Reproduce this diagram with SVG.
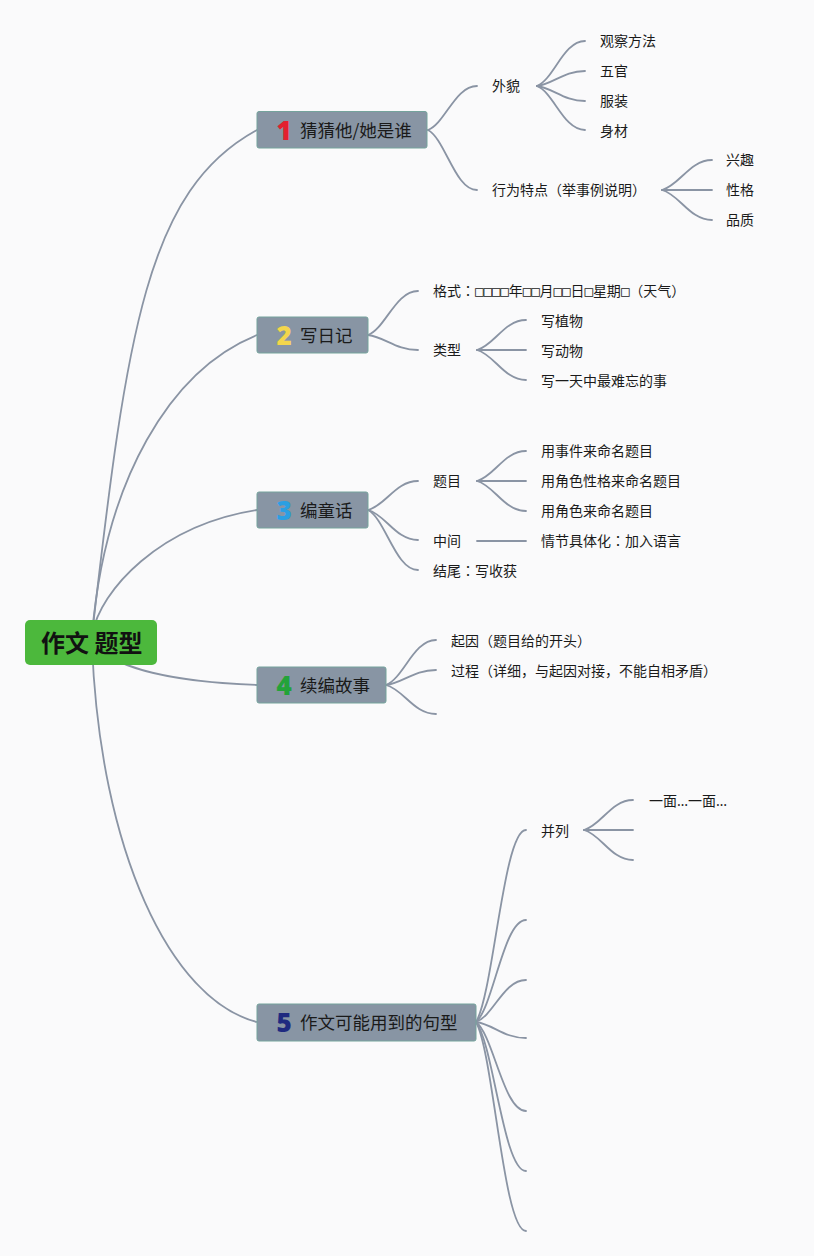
<svg xmlns="http://www.w3.org/2000/svg" width="814" height="1256" viewBox="0 0 814 1256">
<style>
.bg{fill:#fafafb}
.ln{fill:none;stroke:#8a94a4;stroke-width:1.8;stroke-linecap:round}
.root{fill:#4cb83c}
.rt{font-family:"Noto Sans CJK SC",sans-serif;font-size:24px;font-weight:bold;fill:#111}
.br{fill:#8895a4;stroke:#74a39c;stroke-width:1}
.bt{font-family:"Noto Sans CJK SC",sans-serif;font-size:17.5px;fill:#1a1a1a}
.num{font-family:"Noto Sans","Noto Sans CJK SC",sans-serif;font-size:26px;font-weight:900;text-anchor:middle}
.t{font-family:"Noto Sans CJK SC",sans-serif;font-size:14px;fill:#1a1a1a}
.box{font-family:"DejaVu Sans Mono",monospace}
.col{font-family:"Noto Sans CJK TC",sans-serif}
.ell{font-family:"Noto Sans",sans-serif}
</style>
<rect class="bg" x="0" y="0" width="814" height="1256"/>
<g id="connectors">
<path class="ln" d="M92,635 C127,330 147,190 257,130"/>
<path class="ln" d="M92,635 C105,480 170,370 257,335"/>
<path class="ln" d="M92,635 C100,590 160,525 257,510"/>
<path class="ln" d="M92,640 C110,670 180,682 257,685"/>
<path class="ln" d="M92,645 C100,850 170,1000 257,1022"/>
<path class="ln" d="M428,130 C445.2,123.4 455,86 477,86"/>
<path class="ln" d="M428,130 C445.2,139 455,190 477,190"/>
<path class="ln" d="M537,86 C553.8,79.25 563.4,41 585,41"/>
<path class="ln" d="M537,86 C553.8,83.75 563.4,71 585,71"/>
<path class="ln" d="M537,86 C553.8,88.25 563.4,101 585,101"/>
<path class="ln" d="M537,86 C553.8,92.6 563.4,130 585,130"/>
<path class="ln" d="M662,190 C679.5,185.5 689.5,160 712,160"/>
<path class="ln" d="M662,190 L712,190"/>
<path class="ln" d="M662,190 C679.5,194.5 689.5,220 712,220"/>
<path class="ln" d="M368,335 C385.5,328.4 395.5,291 418,291"/>
<path class="ln" d="M368,335 C385.5,337.25 395.5,350 418,350"/>
<path class="ln" d="M477,350 C494.2,345.5 504,320 526,320"/>
<path class="ln" d="M477,350 L526,350"/>
<path class="ln" d="M477,350 C494.2,354.5 504,380 526,380"/>
<path class="ln" d="M368,510 C385.5,505.65 395.5,481 418,481"/>
<path class="ln" d="M368,510 C385.5,514.5 395.5,540 418,540"/>
<path class="ln" d="M368,510 C385.5,519 395.5,570 418,570"/>
<path class="ln" d="M477,481 C494.2,476.5 504,451 526,451"/>
<path class="ln" d="M477,481 L526,481"/>
<path class="ln" d="M477,481 C494.2,485.5 504,511 526,511"/>
<path class="ln" d="M477,541 L526,541"/>
<path class="ln" d="M386,685 C403.5,678.25 413.5,640 436,640"/>
<path class="ln" d="M386,685 C403.5,682.75 413.5,670 436,670"/>
<path class="ln" d="M386,685 C403.5,689.35 413.5,714 436,714"/>
<path class="ln" d="M476,1022 C493.5,993.2 503.5,830 526,830"/>
<path class="ln" d="M476,1022 C493.5,1006.7 503.5,920 526,920"/>
<path class="ln" d="M476,1022 C493.5,1015.7 503.5,980 526,980"/>
<path class="ln" d="M476,1022 C493.5,1024.4 503.5,1038 526,1038"/>
<path class="ln" d="M476,1022 C493.5,1035.35 503.5,1111 526,1111"/>
<path class="ln" d="M476,1022 C493.5,1044.35 503.5,1171 526,1171"/>
<path class="ln" d="M476,1022 C493.5,1053.35 503.5,1231 526,1231"/>
<path class="ln" d="M584,830 C601.15,825.5 610.95,800 633,800"/>
<path class="ln" d="M584,830 L633,830"/>
<path class="ln" d="M584,830 C601.15,834.5 610.95,860 633,860"/>
</g>
<g id="root">
<rect class="root" x="25" y="620" width="132" height="45" rx="5"/>
<text class="rt" x="41" y="652">作文 题型</text>
</g>
<g id="b1">
<rect class="br" x="257" y="111.5" width="170" height="36.5" rx="2"/>
<text class="num" x="284" y="139.5" fill="#e3202f">1</text>
<text class="bt" x="300" y="136.5">猜猜他/她是谁</text>
</g>
<g id="b2">
<rect class="br" x="257" y="317" width="111" height="36" rx="2"/>
<text class="num" x="284" y="344.5" fill="#f3d64c">2</text>
<text class="bt" x="300" y="341.5">写日记</text>
</g>
<g id="b3">
<rect class="br" x="257" y="492" width="111" height="36" rx="2"/>
<text class="num" x="284" y="519.5" fill="#2b9fe2">3</text>
<text class="bt" x="300" y="516.5">编童话</text>
</g>
<g id="b4">
<rect class="br" x="257" y="667" width="129" height="36" rx="2"/>
<text class="num" x="284" y="694.5" fill="#23a33a">4</text>
<text class="bt" x="300" y="691.5">续编故事</text>
</g>
<g id="b5">
<rect class="br" x="257" y="1004" width="219" height="37" rx="2"/>
<text class="num" x="284" y="1031.5" fill="#1f2a80">5</text>
<text class="bt" x="300" y="1028.5">作文可能用到的句型</text>
</g>
<g id="b1-sub">
<text class="t" x="492" y="91">外貌</text>
<text class="t" x="600" y="46">观察方法</text>
<text class="t" x="600" y="76">五官</text>
<text class="t" x="600" y="106">服装</text>
<text class="t" x="600" y="136">身材</text>
<text class="t" x="492" y="195">行为特点（举事例说明）</text>
<text class="t" x="726" y="165">兴趣</text>
<text class="t" x="726" y="195">性格</text>
<text class="t" x="726" y="225">品质</text>
</g>
<g id="b2-sub">
<text class="t" x="433" y="296">格式<tspan class="col">：</tspan><tspan class="box">□□□□</tspan>年<tspan class="box">□□</tspan>月<tspan class="box">□□</tspan>日<tspan class="box">□</tspan>星期<tspan class="box">□</tspan>（天气）</text>
<text class="t" x="433" y="355">类型</text>
<text class="t" x="541" y="326">写植物</text>
<text class="t" x="541" y="356">写动物</text>
<text class="t" x="541" y="386">写一天中最难忘的事</text>
</g>
<g id="b3-sub">
<text class="t" x="433" y="486">题目</text>
<text class="t" x="541" y="456">用事件来命名题目</text>
<text class="t" x="541" y="486">用角色性格来命名题目</text>
<text class="t" x="541" y="516">用角色来命名题目</text>
<text class="t" x="433" y="546">中间</text>
<text class="t" x="541" y="546">情节具体化<tspan class="col">：</tspan>加入语言</text>
<text class="t" x="433" y="576">结尾<tspan class="col">：</tspan>写收获</text>
</g>
<g id="b4-sub">
<text class="t" x="451" y="646">起因（题目给的开头）</text>
<text class="t" x="451" y="676">过程（详细，与起因对接，不能自相矛盾）</text>
</g>
<g id="b5-sub">
<text class="t" x="541" y="836">并列</text>
<text class="t" x="649" y="806">一面<tspan class="ell">…</tspan>一面<tspan class="ell">…</tspan></text>
</g>
</svg>
